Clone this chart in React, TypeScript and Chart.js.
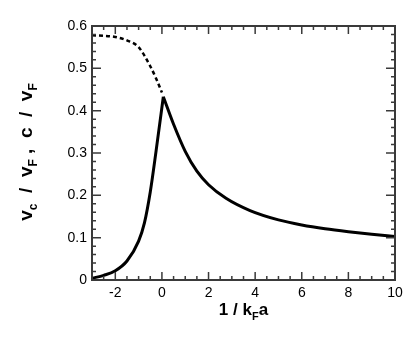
import React, { useEffect, useRef } from "react";
import { Chart, registerables } from "chart.js";

Chart.register(...registerables);

// ---- data ----
const X_MIN = -3;
const X_MAX = 10;
const Y_MIN = 0;
const Y_MAX = 0.6;
const X_TICKS = [-2, 0, 2, 4, 6, 8, 10];
const Y_TICKS = [0, 0.1, 0.2, 0.3, 0.4, 0.5, 0.6];

// solid curve, left branch (rising to the cusp)
const LEFT_X = [-3, -2.5, -2, -1.5, -1, -0.75, -0.5, -0.25, 0.06];
const LEFT_Y = [0.004, 0.011, 0.022, 0.045, 0.092, 0.135, 0.208, 0.305, 0.433];

// solid curve, right branch (decaying from the cusp)
const RIGHT_X = [0.06, 0.5, 1, 1.5, 2, 2.75, 3.78, 5, 6, 7, 8, 9, 10];
const RIGHT_Y = [0.433, 0.368, 0.304, 0.257, 0.225, 0.193, 0.164, 0.142, 0.130, 0.121, 0.114, 0.108, 0.103];

// dashed curve
const DASH_X = [-3, -2.5, -2, -1.5, -1, -0.5, -0.25, 0];
const DASH_Y = [0.578, 0.577, 0.574, 0.566, 0.550, 0.505, 0.476, 0.443];

const toPts = (xs: number[], ys: number[]) => xs.map((x, i) => ({ x, y: ys[i] }));

type Piece = [string, boolean];

function drawPieces(ctx: CanvasRenderingContext2D, pieces: Piece[], mainPx: number, subPx: number, subDrop: number) {
  const mainFont = `bold ${mainPx}px "Liberation Sans", Arial, sans-serif`;
  const subFont = `bold ${subPx}px "Liberation Sans", Arial, sans-serif`;
  let total = 0;
  const widths = pieces.map(([t, sub]) => {
    ctx.font = sub ? subFont : mainFont;
    const w = ctx.measureText(t).width;
    total += w;
    return w;
  });
  let pos = -total / 2;
  pieces.forEach(([t, sub], i) => {
    ctx.font = sub ? subFont : mainFont;
    ctx.fillText(t, pos, sub ? subDrop : 0);
    pos += widths[i];
  });
}

const framePlugin = {
  id: "frameTicks",
  afterDraw(chart: any) {
    const ctx: CanvasRenderingContext2D = chart.ctx;
    const a = chart.chartArea;
    const xs = chart.scales.x;
    const ys = chart.scales.y;
    const L = a.left;
    const R = a.right;
    const T = a.top;
    const B = a.bottom;

    ctx.save();
    ctx.setLineDash([]);
    ctx.strokeStyle = "#3a3a3a";
    ctx.lineWidth = 2;
    ctx.strokeRect(L, T, R - L, B - T);
    ctx.beginPath();
    for (let k = 0; k <= (X_MAX - X_MIN) * 2; k++) {
      const v = X_MIN + k * 0.5;
      const major = X_TICKS.indexOf(v) >= 0;
      const len = major ? 8 : 4;
      const px = xs.getPixelForValue(v);
      ctx.moveTo(px, B);
      ctx.lineTo(px, B - len);
      ctx.moveTo(px, T);
      ctx.lineTo(px, T + len);
    }
    for (let k = 0; k <= 30; k++) {
      const v = Y_MIN + k * 0.02;
      const major = k % 5 === 0;
      const len = major ? 9 : 4;
      const py = ys.getPixelForValue(v);
      ctx.moveTo(L, py);
      ctx.lineTo(L + len, py);
      ctx.moveTo(R, py);
      ctx.lineTo(R - len, py);
    }
    ctx.lineWidth = 1.5;
    ctx.stroke();
    ctx.restore();

    ctx.save();
    ctx.fillStyle = "#000";
    ctx.textBaseline = "alphabetic";
    ctx.textAlign = "left";
    // x title
    ctx.save();
    ctx.translate((L + R) / 2, 315);
    drawPieces(ctx, [["1 / k", false], ["F", true], ["a", false]], 17, 11, 5);
    ctx.restore();
    // y title
    ctx.save();
    ctx.translate(32, 152);
    ctx.rotate(-Math.PI / 2);
    drawPieces(
      ctx,
      [
        ["v", false], ["c", true], ["  /  ", false], ["v", false], ["F", true],
        [" ,  ", false], ["c", false], ["  /  ", false], ["v", false], ["F", true],
      ],
      19, 12, 5
    );
    ctx.restore();
    ctx.restore();
  },
};

export default function App() {
  const ref = useRef<HTMLCanvasElement | null>(null);
  useEffect(() => {
    if (!ref.current) return;
    const solid = {
      borderColor: "#000",
      borderWidth: 3,
      pointRadius: 0,
      fill: false,
      cubicInterpolationMode: "monotone" as const,
    };
    const chart = new Chart(ref.current, {
      type: "line",
      data: {
        datasets: [
          { ...solid, data: toPts(LEFT_X, LEFT_Y) },
          { ...solid, data: toPts(RIGHT_X, RIGHT_Y) },
          { ...solid, borderWidth: 2.5, borderDash: [4, 3], data: toPts(DASH_X, DASH_Y) },
        ],
      },
      options: {
        responsive: false,
        animation: false,
        layout: { padding: { top: 26, right: 14, left: 0, bottom: 0 } },
        plugins: { legend: { display: false }, tooltip: { enabled: false } },
        scales: {
          x: {
            type: "linear",
            min: X_MIN,
            max: X_MAX,
            afterBuildTicks: (s: any) => {
              s.ticks = X_TICKS.map((v) => ({ value: v }));
            },
            afterFit: (s: any) => {
              s.height = 61;
            },
            grid: { display: false, drawTicks: false },
            border: { display: false },
            ticks: {
              padding: 5,
              maxRotation: 0,
              color: "#000",
              font: { family: '"Liberation Sans", Arial, sans-serif', size: 14 },
            },
          },
          y: {
            type: "linear",
            min: Y_MIN,
            max: Y_MAX,
            afterBuildTicks: (s: any) => {
              s.ticks = Y_TICKS.map((v) => ({ value: v }));
            },
            afterFit: (s: any) => {
              s.width = 92;
            },
            grid: { display: false, drawTicks: false },
            border: { display: false },
            ticks: {
              padding: 5,
              color: "#000",
              font: { family: '"Liberation Sans", Arial, sans-serif', size: 14 },
            },
          },
        },
      },
      plugins: [framePlugin],
    });
    return () => chart.destroy();
  }, []);
  return (
    <div style={{ position: "fixed", left: 0, top: 0, width: 409, height: 341, background: "#fff" }}>
      <canvas ref={ref} width={409} height={341} style={{ display: "block" }} />
    </div>
  );
}
